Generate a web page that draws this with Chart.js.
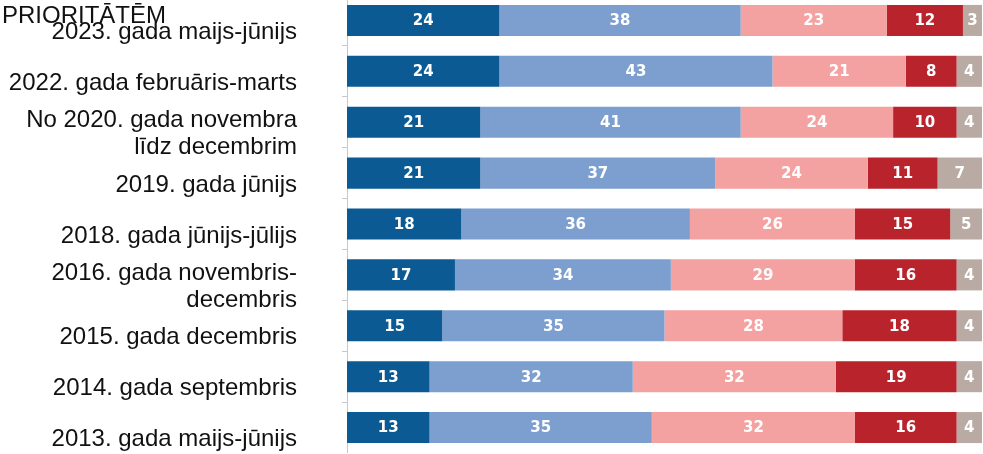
<!DOCTYPE html>
<html>
<head>
<meta charset="utf-8">
<script src="https://cdn.jsdelivr.net/npm/chart.js@4.4.0/dist/chart.umd.min.js"></script>
<style>
  html, body { margin: 0; padding: 0; background: #fff; overflow: hidden; }
  #wrap { position: absolute; left: 0; top: -5px; width: 983px; height: 458px; }
  #title { position: absolute; left: 2px; top: 1px; font: 24px "Liberation Sans", Arial, sans-serif; color: #111; z-index: 2; }
</style>
</head>
<body>
<div id="title">PRIORITĀTĒM</div>
<div id="wrap"><canvas id="chart"></canvas></div>
<script>
// aptaujas periodi (no augšas uz leju)
const periods = [
  '2023. gada maijs-jūnijs',
  '2022. gada februāris-marts',
  ['No 2020. gada novembra', 'līdz decembrim'],
  '2019. gada jūnijs',
  '2018. gada jūnijs-jūlijs',
  ['2016. gada novembris-', 'decembris'],
  '2015. gada decembris',
  '2014. gada septembris',
  '2013. gada maijs-jūnijs'
];

// procenti pa atbilžu grupām
const darkBlue  = [24, 24, 21, 21, 18, 17, 15, 13, 13];
const lightBlue = [38, 43, 41, 37, 36, 34, 35, 32, 35];
const lightRed  = [23, 21, 24, 24, 26, 29, 28, 32, 32];
const darkRed   = [12, 8, 10, 11, 15, 16, 18, 19, 16];
const noAnswer  = [3, 4, 4, 7, 5, 4, 4, 4, 4];

const xTicks = [0, 100];

// skaitļi segmentu vidū
const segmentLabels = {
  id: 'segmentLabels',
  afterDatasetsDraw(chart) {
    const ctx = chart.ctx;
    ctx.save();
    ctx.font = 'bold 15px "DejaVu Sans", Verdana, sans-serif';
    ctx.fillStyle = '#ffffff';
    ctx.textAlign = 'center';
    ctx.textBaseline = 'middle';
    chart.data.datasets.forEach((ds, i) => {
      chart.getDatasetMeta(i).data.forEach((bar, j) => {
        const p = bar.getProps(['x', 'y', 'base'], true);
        ctx.fillText(ds.data[j], (p.x + p.base) / 2, p.y + 1);
      });
    });
    ctx.restore();
  }
};

function renderChart(chartElementId) {
  const ctx = document.getElementById(chartElementId).getContext('2d');
  const common = { barPercentage: 0.61, categoryPercentage: 1, borderWidth: 0 };
  new Chart(ctx, {
    type: 'bar',
    data: {
      labels: periods,
      datasets: [
        { label: 'a', data: darkBlue, backgroundColor: '#0b5a93', ...common },
        { label: 'b', data: lightBlue, backgroundColor: '#7d9fcf', ...common },
        { label: 'c', data: lightRed, backgroundColor: '#f4a2a1', ...common },
        { label: 'd', data: darkRed, backgroundColor: '#b8232c', ...common },
        { label: 'e', data: noAnswer, backgroundColor: '#b9aba3', ...common },
      ],
    },
    options: {
      indexAxis: 'y',
      responsive: true,
      maintainAspectRatio: false,
      animation: false,
      layout: { padding: { left: 0, right: 1, top: 0, bottom: 0 } },
      plugins: { legend: { display: false }, tooltip: { enabled: false } },
      scales: {
        x: {
          stacked: true,
          display: false,
          min: xTicks[0],
          max: xTicks[1],
        },
        y: {
          stacked: true,
          afterFit(scale) {
            scale.width = 347;
            scale.paddingTop = 0;
            scale.paddingBottom = 0;
          },
          border: { display: true, color: '#c8c8c8', width: 1 },
          grid: { display: true, drawOnChartArea: false, offset: true, tickLength: 5, color: '#c8c8c8' },
          ticks: {
            autoSkip: false,
            padding: 45,
            labelOffset: 12,
            color: '#111',
            font: { family: '"Liberation Sans", Arial, sans-serif', size: 24, lineHeight: 1.125 },
          },
        },
      },
    },
    plugins: [segmentLabels],
  });
}

renderChart('chart');
</script>
</body>
</html>
